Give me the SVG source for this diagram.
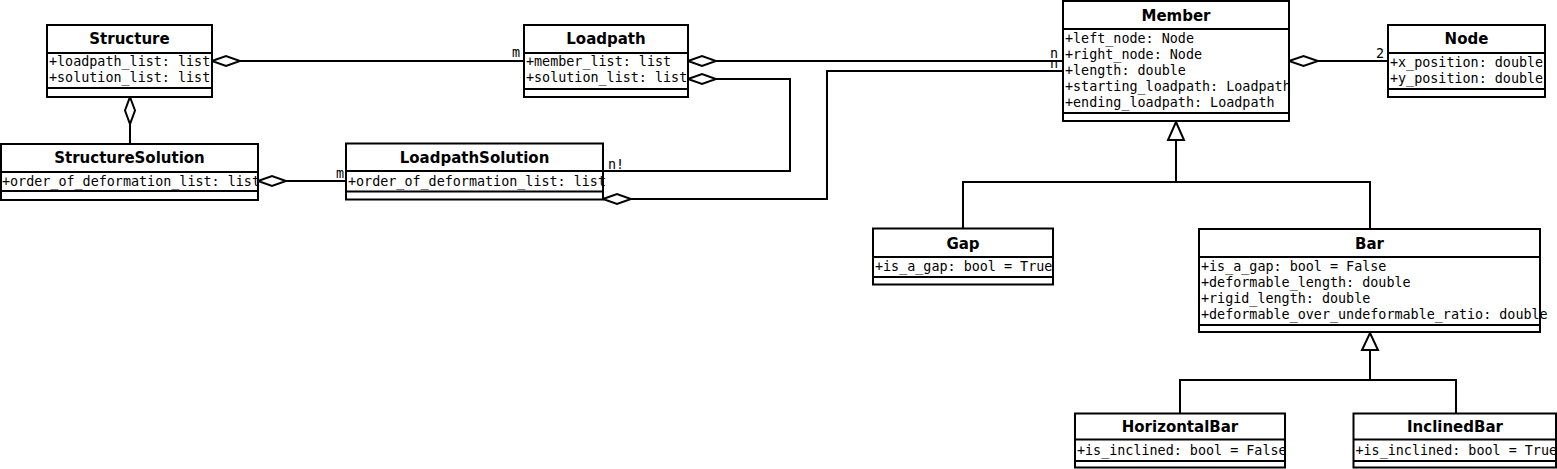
<svg xmlns="http://www.w3.org/2000/svg" width="1557" height="469" viewBox="0 0 1557 469">
<style>
.box{fill:#fff;stroke:#000;stroke-width:2}
.sep{stroke:#000;stroke-width:2}
.title{font-family:"DejaVu Sans","Liberation Sans",sans-serif;font-weight:bold;font-size:15px;text-anchor:middle;fill:#000}
.attr{font-family:"DejaVu Sans Mono","Liberation Mono",monospace;font-size:13.4px;fill:#000}
.lbl{font-family:"DejaVu Sans Mono","Liberation Mono",monospace;font-size:13.4px;fill:#000}
.end{text-anchor:end}
.ln{fill:none;stroke:#000;stroke-width:2}
.dia{fill:#fff;stroke:#000;stroke-width:2}
.tri{fill:#fff;stroke:#000;stroke-width:2}
</style>
<rect width="1557" height="469" fill="#fff"/>
<g id="connectors">
  <!-- Structure - Loadpath -->
  <line class="ln" x1="240" y1="61" x2="524" y2="61"/>
  <polygon class="dia" points="212,61 226,56 240,61 226,66"/>
  <text class="lbl end" x="520" y="57">m</text>
  <!-- Structure - StructureSolution -->
  <line class="ln" x1="130" y1="124" x2="130" y2="144"/>
  <polygon class="dia" points="130,97 135,110.5 130,124 125,110.5"/>
  <!-- StructureSolution - LoadpathSolution -->
  <line class="ln" x1="286" y1="181" x2="346" y2="181"/>
  <polygon class="dia" points="258,181 272,176 286,181 272,186"/>
  <text class="lbl end" x="344" y="178">m</text>
  <!-- Loadpath member_list - Member -->
  <line class="ln" x1="716" y1="61" x2="1063" y2="61"/>
  <polygon class="dia" points="688,61 702,56 716,61 702,66"/>
  <text class="lbl end" x="1058" y="58">n</text>
  <!-- LoadpathSolution - Member -->
  <polyline class="ln" points="631,199 827,199 827,71 1063,71"/>
  <polygon class="dia" points="603,199 617,194 631,199 617,204"/>
  <text class="lbl end" x="1058" y="68">n</text>
  <!-- Loadpath solution_list - LoadpathSolution -->
  <polyline class="ln" points="716,79 790,79 790,171 603,171"/>
  <polygon class="dia" points="688,79 702,74 716,79 702,84"/>
  <text class="lbl" x="608" y="169">n!</text>
  <!-- Member - Node -->
  <line class="ln" x1="1318" y1="61" x2="1388" y2="61"/>
  <polygon class="dia" points="1289,61 1303.5,56 1318,61 1303.5,66"/>
  <text class="lbl end" x="1384" y="57.5">2</text>
  <!-- Generalization to Member -->
  <polyline class="ln" points="1176,140 1176,182"/>
  <polyline class="ln" points="963,228 963,182 1370,182 1370,229"/>
  <polygon class="tri" points="1176,122 1184,140 1168,140"/>
  <!-- Generalization to Bar -->
  <polyline class="ln" points="1370,350 1370,380"/>
  <polyline class="ln" points="1180,413 1180,380 1456,380 1456,413"/>
  <polygon class="tri" points="1370,333 1378,350 1362,350"/>
</g>
<g id="Structure">
  <rect class="box" x="47" y="25" width="165" height="72"/>
  <line class="sep" x1="47" y1="53" x2="212" y2="53"/>
  <line class="sep" x1="47" y1="88" x2="212" y2="88"/>
  <text class="title" x="129.5" y="43.5">Structure</text>
  <text class="attr" x="49" y="66">+loadpath_list: list</text>
  <text class="attr" x="49" y="82">+solution_list: list</text>
</g>
<g id="Loadpath">
  <rect class="box" x="524" y="25" width="164" height="72"/>
  <line class="sep" x1="524" y1="53" x2="688" y2="53"/>
  <line class="sep" x1="524" y1="89" x2="688" y2="89"/>
  <text class="title" x="606" y="43.5">Loadpath</text>
  <text class="attr" x="526" y="66">+member_list: list</text>
  <text class="attr" x="526" y="82">+solution_list: list</text>
</g>
<g id="StructureSolution">
  <rect class="box" x="1" y="144" width="257" height="56"/>
  <line class="sep" x1="1" y1="172" x2="258" y2="172"/>
  <line class="sep" x1="1" y1="191" x2="258" y2="191"/>
  <text class="title" x="129.5" y="163">StructureSolution</text>
  <text class="attr" x="2" y="186">+order_of_deformation_list: list</text>
</g>
<g id="LoadpathSolution">
  <rect class="box" x="346" y="143.5" width="257" height="56"/>
  <line class="sep" x1="346" y1="171" x2="603" y2="171"/>
  <line class="sep" x1="346" y1="191.5" x2="603" y2="191.5"/>
  <text class="title" x="474.5" y="163">LoadpathSolution</text>
  <text class="attr" x="348" y="186">+order_of_deformation_list: list</text>
</g>
<g id="Member">
  <rect class="box" x="1063" y="1" width="226" height="120"/>
  <line class="sep" x1="1063" y1="29" x2="1289" y2="29"/>
  <line class="sep" x1="1063" y1="113" x2="1289" y2="113"/>
  <text class="title" x="1176" y="20.5">Member</text>
  <text class="attr" x="1065" y="43">+left_node: Node</text>
  <text class="attr" x="1065" y="59">+right_node: Node</text>
  <text class="attr" x="1065" y="75">+length: double</text>
  <text class="attr" x="1065" y="91">+starting_loadpath: Loadpath</text>
  <text class="attr" x="1065" y="107">+ending_loadpath: Loadpath</text>
</g>
<g id="Node">
  <rect class="box" x="1388" y="25" width="157" height="72"/>
  <line class="sep" x1="1388" y1="53" x2="1545" y2="53"/>
  <line class="sep" x1="1388" y1="89" x2="1545" y2="89"/>
  <text class="title" x="1466.5" y="44">Node</text>
  <text class="attr" x="1390" y="67">+x_position: double</text>
  <text class="attr" x="1390" y="83">+y_position: double</text>
</g>
<g id="Gap">
  <rect class="box" x="873" y="228.5" width="180" height="56"/>
  <line class="sep" x1="873" y1="257" x2="1053" y2="257"/>
  <line class="sep" x1="873" y1="277" x2="1053" y2="277"/>
  <text class="title" x="963" y="248.5">Gap</text>
  <text class="attr" x="875" y="271">+is_a_gap: bool = True</text>
</g>
<g id="Bar">
  <rect class="box" x="1199" y="229" width="341" height="103"/>
  <line class="sep" x1="1199" y1="257" x2="1540" y2="257"/>
  <line class="sep" x1="1199" y1="325" x2="1540" y2="325"/>
  <text class="title" x="1369.5" y="248.5">Bar</text>
  <text class="attr" x="1201" y="271">+is_a_gap: bool = False</text>
  <text class="attr" x="1201" y="287">+deformable_length: double</text>
  <text class="attr" x="1201" y="303">+rigid_length: double</text>
  <text class="attr" x="1201" y="319">+deformable_over_undeformable_ratio: double</text>
</g>
<g id="HorizontalBar">
  <rect class="box" x="1075" y="413.5" width="210" height="54"/>
  <line class="sep" x1="1075" y1="439.5" x2="1285" y2="439.5"/>
  <line class="sep" x1="1075" y1="461" x2="1285" y2="461"/>
  <text class="title" x="1180" y="431.5">HorizontalBar</text>
  <text class="attr" x="1077" y="455">+is_inclined: bool = False</text>
</g>
<g id="InclinedBar">
  <rect class="box" x="1353.5" y="413.5" width="202.5" height="54"/>
  <line class="sep" x1="1353.5" y1="439.5" x2="1556" y2="439.5"/>
  <line class="sep" x1="1353.5" y1="461" x2="1556" y2="461"/>
  <text class="title" x="1455" y="431.5">InclinedBar</text>
  <text class="attr" x="1355.5" y="455">+is_inclined: bool = True</text>
</g>
</svg>
